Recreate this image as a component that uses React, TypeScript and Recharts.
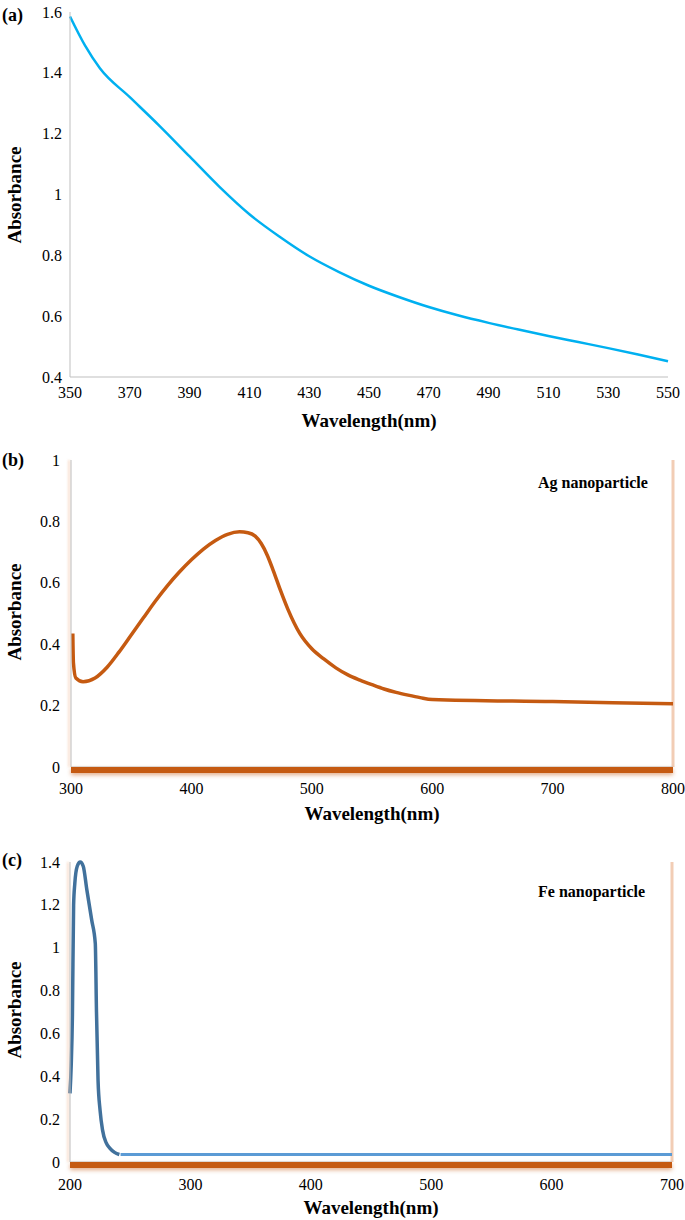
import React from 'react';
import { LineChart, Line, XAxis, YAxis, ReferenceLine } from 'recharts';

// (a) extract spectrum
const aWavelengths = [350, 355, 360, 370, 380, 390, 400, 410, 420, 430, 440, 450, 460, 470, 480, 490, 500, 510, 520, 530, 540, 550];
const aAbsorbance = [1.585, 1.49, 1.415, 1.32, 1.225, 1.125, 1.025, 0.935, 0.862, 0.797, 0.745, 0.7, 0.663, 0.63, 0.602, 0.578, 0.556, 0.535, 0.515, 0.495, 0.474, 0.452];
const aTicksX = [350, 370, 390, 410, 430, 450, 470, 490, 510, 530, 550];
const aTicksY = [0.4, 0.6, 0.8, 1, 1.2, 1.4, 1.6];

// (b) Ag nanoparticle
const bWavelengths = [301.5, 302, 304, 310, 320, 330, 340, 350, 360, 370, 380, 390, 400, 410, 420, 430, 440, 447, 453, 458, 463, 468, 474, 480, 490, 500, 510, 520, 530, 540, 550, 560, 570, 580, 590, 600, 700, 800];
const bAbsorbance = [0.435, 0.34, 0.29, 0.278, 0.29, 0.325, 0.375, 0.43, 0.485, 0.54, 0.59, 0.635, 0.675, 0.71, 0.738, 0.758, 0.766, 0.763, 0.752, 0.728, 0.69, 0.64, 0.575, 0.515, 0.435, 0.385, 0.352, 0.323, 0.3, 0.283, 0.268, 0.254, 0.243, 0.234, 0.226, 0.22, 0.213, 0.206];
const bTicksX = [300, 400, 500, 600, 700, 800];
const bTicksY = [0, 0.2, 0.4, 0.6, 0.8, 1];

// (c) Fe nanoparticle
const cPeakWavelengths = [200, 201, 202, 203, 204, 206, 208.5, 211, 214, 218, 221, 222, 223.3, 225, 227, 230, 233, 237, 241];
const cPeakAbsorbance = [0.32, 0.45, 0.68, 1.2, 1.3, 1.38, 1.4, 1.38, 1.27, 1.13, 1.02, 0.7, 0.38, 0.24, 0.15, 0.09, 0.065, 0.045, 0.035];
const cBaseWavelengths = [242, 700];
const cBaseAbsorbance = [0.035, 0.035];
const cTicksX = [200, 300, 400, 500, 600, 700];
const cTicksY = [0, 0.2, 0.4, 0.6, 0.8, 1, 1.2, 1.4];

const zip = (xs: number[], ys: number[]) => xs.map((x, i) => ({ wl: x, abs: ys[i] }));

const aData = zip(aWavelengths, aAbsorbance);
const bData = zip(bWavelengths, bAbsorbance);
const cPeak = zip(cPeakWavelengths, cPeakAbsorbance);
const cBase = zip(cBaseWavelengths, cBaseAbsorbance);

const FONT = '"Liberation Serif", "Times New Roman", serif';

const XTick = ({ x, y, payload }: any) => (
  <text x={x} y={y} dy="0.71em" textAnchor="middle" fill="#000" fontSize={16} style={{ fontFamily: FONT }}>
    {String(payload.value)}
  </text>
);
const YTick = ({ x, y, payload }: any) => (
  <text x={x} y={y} dy="0.35em" textAnchor="end" fill="#000" fontSize={16} style={{ fontFamily: FONT }}>
    {String(payload.value)}
  </text>
);

const orangeAxis = {
  stroke: '#c55a11',
  strokeWidth: 6,
  style: { transform: 'translate(0px, 3px)', filter: 'drop-shadow(0px 2px 2px rgba(197,90,17,0.5))' },
};
const wallAxis = {
  stroke: '#bfbfbf',
  strokeWidth: 1,
  style: { filter: 'drop-shadow(-2px 0px 1px rgba(230,140,80,0.55))' },
};

const Txt = ({ x, y, size, bold, children, anchor = 'center', rotate = false }: any) => (
  <div
    style={{
      position: 'absolute',
      left: x,
      top: y,
      fontFamily: FONT,
      fontSize: size,
      fontWeight: bold ? 'bold' : 'normal',
      lineHeight: 1,
      whiteSpace: 'nowrap',
      transform:
        (anchor === 'center' ? 'translate(-50%, -50%)' : 'translate(0, -50%)') + (rotate ? ' rotate(-90deg)' : ''),
    }}
  >
    {children}
  </div>
);

export default function App() {
  return (
    <div
      style={{
        position: 'absolute',
        left: 0,
        top: 0,
        width: 685,
        height: 1220,
        background: '#fff',
        overflow: 'hidden',
        fontFamily: FONT,
      }}
    >
      {/* (a) */}
      <div style={{ position: 'absolute', left: 0, top: 0 }}>
        <LineChart width={685} height={410} data={aData} margin={{ top: 12, right: 17, bottom: 3, left: 20 }}>
          <XAxis
            dataKey="wl"
            type="number"
            domain={[350, 550]}
            ticks={aTicksX}
            tickLine={false}
            tickMargin={4}
            axisLine={{ stroke: '#bfbfbf' }}
            tick={<XTick />}
            height={30}
            interval={0}
          />
          <YAxis
            type="number"
            domain={[0.4, 1.6]}
            ticks={aTicksY}
            tickLine={false}
            tickMargin={2}
            axisLine={{ stroke: '#bfbfbf' }}
            tick={<YTick />}
            width={50}
            interval={0}
          />
          <Line dataKey="abs" type="monotone" stroke="#00b0f0" strokeWidth={2.5} dot={false} isAnimationActive={false} />
        </LineChart>
      </div>

      {/* (b) */}
      <div style={{ position: 'absolute', left: 0, top: 448 }}>
        <LineChart width={685} height={352} data={bData} margin={{ top: 12, right: 12, bottom: 3, left: 21 }}>
          <XAxis
            dataKey="wl"
            type="number"
            domain={[300, 800]}
            ticks={bTicksX}
            tickLine={false}
            tickMargin={10}
            axisLine={orangeAxis}
            tick={<XTick />}
            height={30}
            interval={0}
          />
          <YAxis
            type="number"
            domain={[0, 1]}
            ticks={bTicksY}
            tickLine={false}
            tickMargin={5}
            axisLine={wallAxis}
            tick={<YTick />}
            width={50}
            interval={0}
          />
          <ReferenceLine x={800} stroke="#f2cdb5" strokeWidth={3} />
          <ReferenceLine y={0} stroke="#bfbfbf" strokeWidth={1} />
          <Line dataKey="abs" type="monotone" stroke="#c55a11" strokeWidth={3.5} dot={false} isAnimationActive={false} />
        </LineChart>
      </div>

      {/* (c) */}
      <div style={{ position: 'absolute', left: 0, top: 850 }}>
        <LineChart width={685} height={345} margin={{ top: 12, right: 13, bottom: 3, left: 20 }}>
          <XAxis
            dataKey="wl"
            type="number"
            domain={[200, 700]}
            ticks={cTicksX}
            tickLine={false}
            tickMargin={11}
            axisLine={orangeAxis}
            tick={<XTick />}
            height={30}
            interval={0}
            allowDuplicatedCategory={false}
          />
          <YAxis
            type="number"
            domain={[0, 1.4]}
            ticks={cTicksY}
            tickLine={false}
            tickMargin={4}
            axisLine={wallAxis}
            tick={<YTick />}
            width={50}
            interval={0}
          />
          <ReferenceLine x={700} stroke="#f2cdb5" strokeWidth={3} />
          <ReferenceLine y={0} stroke="#bfbfbf" strokeWidth={1} />
          <Line data={cPeak} dataKey="abs" type="monotone" stroke="#41719c" strokeWidth={3.5} dot={false} isAnimationActive={false} />
          <Line data={cBase} dataKey="abs" type="linear" stroke="#5b9bd5" strokeWidth={3} dot={false} isAnimationActive={false} />
        </LineChart>
      </div>

      {/* panel letters */}
      <Txt x={2} y={15} size={18} bold anchor="left">(a)</Txt>
      <Txt x={2} y={460} size={18} bold anchor="left">(b)</Txt>
      <Txt x={2} y={860} size={18} bold anchor="left">(c)</Txt>

      {/* axis titles */}
      <Txt x={14} y={195} size={19} bold rotate>Absorbance</Txt>
      <Txt x={14} y={612} size={19} bold rotate>Absorbance</Txt>
      <Txt x={14} y={1010} size={19} bold rotate>Absorbance</Txt>
      <Txt x={369} y={420} size={19} bold>Wavelength(nm)</Txt>
      <Txt x={372} y={813} size={19} bold>Wavelength(nm)</Txt>
      <Txt x={371} y={1207} size={19} bold>Wavelength(nm)</Txt>

      {/* annotations */}
      <Txt x={538} y={483} size={16} bold anchor="left">Ag nanoparticle</Txt>
      <Txt x={538} y={892} size={16} bold anchor="left">Fe nanoparticle</Txt>
    </div>
  );
}
